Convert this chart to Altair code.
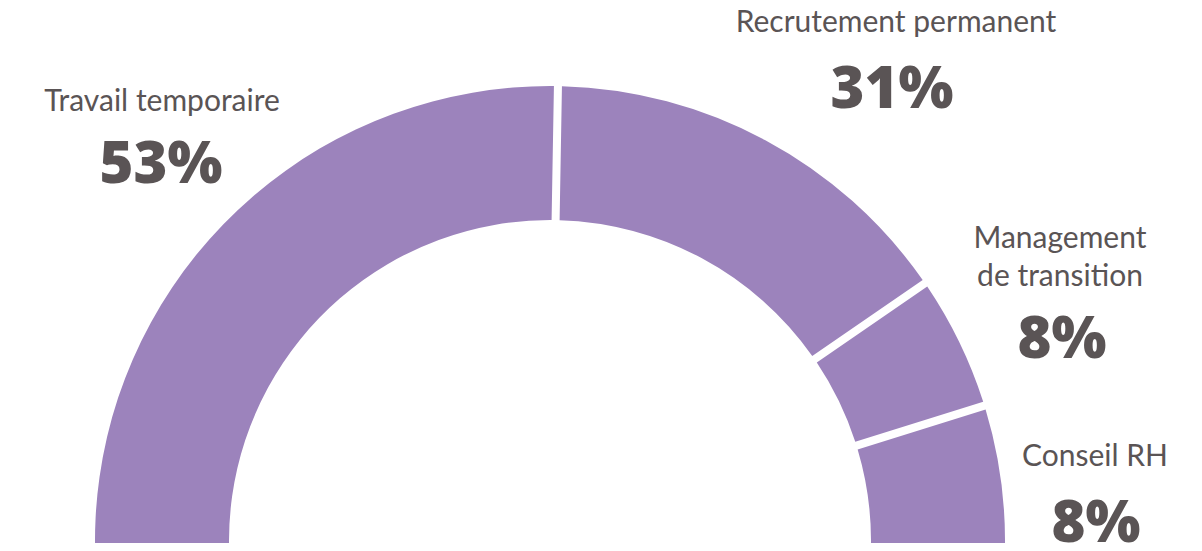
import altair as alt
import pandas as pd

# ---- data ----
categories = ["Recrutement permanent", "Management de transition", "Conseil RH", "Travail temporaire"]
labels = ["Recrutement permanent", "Management\nde transition", "Conseil RH", "Travail temporaire"]
percents = [31, 8, 8, 53]
# arc spans in degrees as drawn in the picture (hidden parts below the frame estimated)
arc_degrees = [54.5, 17.2, 40.0, 248.3]
order_idx = [0, 1, 2, 3]

df = pd.DataFrame({
    "category": categories,
    "label": labels,
    "pct": [f"{p}%" for p in percents],
    "span": arc_degrees,
    "idx": order_idx,
})

PURPLE = "#9c83bc"
TEXT = "#5a5455"
FONT = "Lato"
PCT_FONT = "Open Sans"
CX, CY = 542, 533
PI = 3.141592653589793
START = 1.0 * PI / 180

arc = alt.Chart(df).mark_arc(
    radius=455, innerRadius=321, padAngle=0.0144, color=PURPLE
).encode(
    theta=alt.Theta("span:Q", stack=True,
                    scale=alt.Scale(domain=[0, 360], range=[START, START + 2 * PI])),
    order=alt.Order("idx:Q"),
    detail="category:N",
    x=alt.value(CX),
    y=alt.value(CY),
)

# label layout (chart pixel positions of label baselines)
layout = {
    "Travail temporaire": ((154, 103), (153, 175)),
    "Recrutement permanent": ((888, 24), (884, 100)),
    "Management de transition": ((1052, 240), (1054, 350)),
    "Conseil RH": ((1087, 458), (1088, 534)),
}

layers = [arc]
for cat, ((lx, ly), (px, py)) in layout.items():
    base = alt.Chart(df).transform_filter(alt.datum.category == cat)
    layers.append(
        base.mark_text(font=FONT, fontSize=30, color=TEXT, align="center",
                       baseline="alphabetic", lineBreak="\n", lineHeight=38)
        .encode(text="label:N", x=alt.value(lx), y=alt.value(ly))
    )
    layers.append(
        base.mark_text(font=PCT_FONT, fontSize=58, fontWeight=800, color=TEXT,
                       align="center", baseline="alphabetic")
        .encode(text="pct:N", x=alt.value(px), y=alt.value(py))
    )

chart = alt.layer(*layers).properties(
    width=1186, height=535, padding=0, autosize=alt.AutoSizeParams(type="none")
).configure_view(stroke=None)

chart.save("out.html", embed_options={"renderer": "svg", "actions": False})
